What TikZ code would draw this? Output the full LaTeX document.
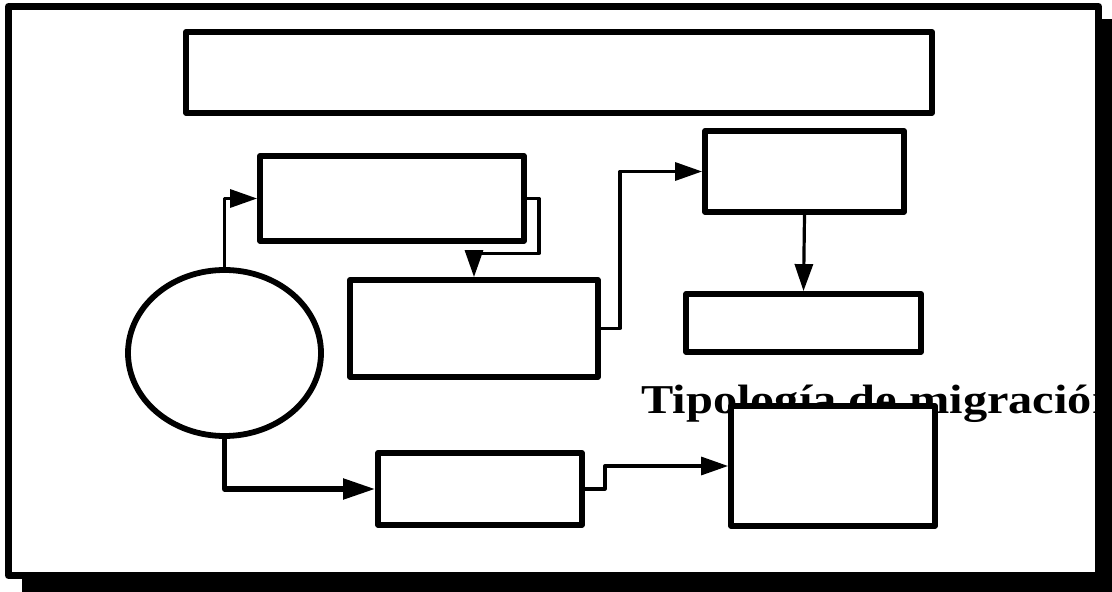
\documentclass[tikz,border=0pt]{standalone}
\usepackage{fontspec}
\usepackage{graphicx}
\setmainfont{Liberation Serif}
\usetikzlibrary{arrows.meta, shapes.geometric}

\begin{document}
\begin{tikzpicture}[x=0.5pt, y=-0.5pt,
    caja/.style={draw, fill=white, line width=2.9pt, line join=round, minimum width=#1},
    flecha/.style={line width=1.6pt, line join=round, -{Triangle[length=13.5pt, width=9pt]}},
    flechagruesa/.style={line width=2.6pt, line join=round, -{Triangle[length=16pt, width=10pt]}}]
    \useasboundingbox (0,0) rectangle (1112,592);

    % Frame with shadow
    \fill[black] (22,19) rectangle (1112,592);
    \draw[line width=3.5pt, fill=white, line join=round] (8.5,6.5) rectangle (1098.5,575.5);

    % Label partly hidden by the boxes
    \node[anchor=base west, inner sep=0pt, font=\fontsize{20.5}{24}\selectfont\bfseries] (tipologia) at (641,414) {\scalebox{1.18}[1]{Tipología de migración}};

    % Boxes
    \node[caja=373pt, minimum height=40.5pt] (titulo) at (559,72.5) {};
    \node[caja=132pt, minimum height=42.5pt] (origen) at (392,198.5) {};
    \node[caja=124pt, minimum height=48.5pt] (causas) at (474,328.5) {};
    \node[caja=99.5pt, minimum height=40.5pt] (destino) at (804.5,171.5) {};
    \node[caja=117.5pt, minimum height=29pt] (efectos) at (803.5,323) {};
    \node[caja=102pt, minimum height=36pt] (tiempo) at (480,489) {};
    \node[caja=102pt, minimum height=60pt] (tipos) at (833,466) {};

    % Ellipse
    \node[draw, fill=white, ellipse, line width=2.9pt, minimum width=96.5pt, minimum height=83pt] (migracion) at (224.5,353) {};

    % Connectors
    \draw[flecha] (migracion.north) |- (origen.west);
    \draw[flecha] (origen.east) -- ++(12,0) -- ++(0,55) -| (causas.north);
    \draw[flecha] (causas.east) -- ++(19,0) |- (destino.west);
    \draw[flecha] (destino.south) -- (efectos.north);
    \draw[flechagruesa] (migracion.south) |- (tiempo.west);
    \draw[flecha] (tiempo.east) -- ++(20,0) |- (tipos.west);

\end{tikzpicture}
\end{document}
